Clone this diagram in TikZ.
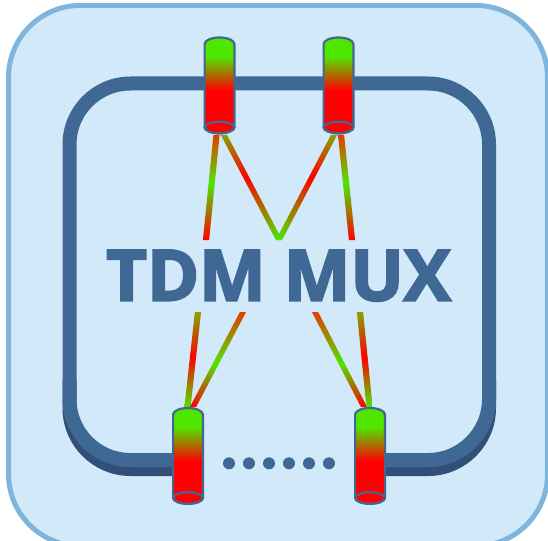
\documentclass[tikz,border=0pt]{standalone}
\usepackage{fontspec}
\setmainfont{Open Sans}
\newfontfamily\titlefont{Open Sans}[BoldFeatures={FakeBold=3}]
\usetikzlibrary{calc}
\definecolor{panelfill}{HTML}{D2E9FA}
\definecolor{panelline}{HTML}{7FB5DD}
\definecolor{ringblue}{HTML}{3F6994}
\definecolor{ringdark}{HTML}{334F78}
\definecolor{lampgreen}{HTML}{4FE600}
\definecolor{fibOlive}{HTML}{88A400}
\definecolor{fibOrange}{HTML}{E43C00}
\pgfdeclareverticalshading{lampshade}{100bp}{color(0bp)=(red); color(47.5bp)=(red); color(65bp)=(lampgreen); color(100bp)=(lampgreen)}
\pgfdeclareverticalshading{topA}{100bp}{color(0bp)=(red); color(25bp)=(red); color(52bp)=(lampgreen); color(75bp)=(fibOrange); color(100bp)=(fibOrange)}
\pgfdeclareverticalshading{topB}{100bp}{color(0bp)=(lampgreen); color(25bp)=(lampgreen); color(55bp)=(red); color(75bp)=(fibOlive); color(100bp)=(fibOlive)}
\pgfdeclareverticalshading{botA}{100bp}{color(0bp)=(red); color(25bp)=(red); color(48bp)=(lampgreen); color(75bp)=(fibOrange); color(100bp)=(fibOrange)}
\pgfdeclareverticalshading{botB}{100bp}{color(0bp)=(lampgreen); color(25bp)=(lampgreen); color(51bp)=(red); color(75bp)=(fibOlive); color(100bp)=(fibOlive)}
\tikzset{
  panel/.style={draw=panelline,line width=5pt,fill=panelfill,rounded corners=72pt},
  ringmain/.style={draw=ringblue,line width=14pt,rounded corners=61pt},
  ringshadow/.style={draw=ringdark,line width=14pt,rounded corners=61pt},
  lampbody/.style={draw=ringblue,line width=2.2pt,shade,shading=lampshade,line join=round},
  lampend/.style={draw=ringblue,line width=2.2pt,fill=red},
  dotmark/.style={circle,fill=ringblue,inner sep=0pt,minimum size=12pt},
  title/.style={text=ringblue,inner sep=0pt,font=\titlefont\fontsize{70.5}{70.5}\selectfont\bfseries}
}
% lamp: centre x, top of cap, y of lower ellipse
\newcommand{\lamp}[3]{%
  \path[lampbody] (#1-14.9,#2+6.5) .. controls (#1-14.9,#2+2.9) and (#1-8,#2) .. (#1,#2)
     .. controls (#1+8,#2) and (#1+14.9,#2+2.9) .. (#1+14.9,#2+6.5)
     -- (#1+14.9,#3) .. controls (#1+14.9,#3+3) and (#1+8,#3+5.8) .. (#1,#3+5.8)
     .. controls (#1-8,#3+5.8) and (#1-14.9,#3+3) .. (#1-14.9,#3) -- cycle;
  \path[lampend] (#1-14.9,#3) .. controls (#1-14.9,#3-3) and (#1-8,#3-5.8) .. (#1,#3-5.8)
     .. controls (#1+8,#3-5.8) and (#1+14.9,#3-3) .. (#1+14.9,#3)
     .. controls (#1+14.9,#3+3) and (#1+8,#3+5.8) .. (#1,#3+5.8)
     .. controls (#1-8,#3+5.8) and (#1-14.9,#3+3) .. (#1-14.9,#3) -- cycle;
}
% fibre: shading, upper end, lower end
\newcommand{\fibre}[3]{%
  \path[shade,shading=#1] ($(#2)+(-3.1,0)$) -- ($(#2)+(3.1,0)$) -- ($(#3)+(3.1,0)$) -- ($(#3)+(-3.1,0)$) -- cycle;
}
\begin{document}
\begin{tikzpicture}[x=1pt,y=-1pt]
\useasboundingbox (0,0) rectangle (548,540);
\clip (0,0) rectangle (548,540);
\path[panel] (8.5,5.4) rectangle (547.5,546);
\draw[ringshadow] (69.5,380) -- (69.5,469) -- (188,469);
\draw[ringshadow] (489,380) -- (489,469) -- (370,469);
\draw[ringmain] (188,460) -- (69.5,460) -- (69.5,83.5) -- (489,83.5) -- (489,460) -- (370,460);
\node[title] (label) at (278.5,275.7) {TDM MUX};
\coordinate (t1a) at (216.5,135); \coordinate (t1b) at (206,240);
\coordinate (t2a) at (224,135);   \coordinate (apex) at (279,240);
\coordinate (t3a) at (334,135);
\coordinate (t4a) at (341,135);   \coordinate (t4b) at (352,240);
\coordinate (b1a) at (198,312);   \coordinate (b1b) at (187.5,407);
\coordinate (b2a) at (243,312);   \coordinate (b2b) at (193,407);
\coordinate (b3a) at (315,312);   \coordinate (b3b) at (364,407);
\coordinate (b4a) at (360,312);   \coordinate (b4b) at (369.5,407);
\fibre{topA}{t1a}{t1b}
\fibre{topB}{t2a}{apex}
\fibre{topB}{t3a}{apex}
\fibre{topA}{t4a}{t4b}
\fibre{botB}{b1a}{b1b}
\fibre{botA}{b2a}{b2b}
\fibre{botA}{b3a}{b3b}
\fibre{botB}{b4a}{b4b}
\lamp{219.5}{37.5}{127.5}
\lamp{338.5}{37.5}{127.5}
\lamp{188}{408}{498}
\lamp{370}{408}{498}
\foreach \n/\x in {1/229,2/249,3/269,4/289,5/309,6/329}
  \node[dotmark] (dot\n) at (\x,463.3) {};
\end{tikzpicture}
\end{document}
